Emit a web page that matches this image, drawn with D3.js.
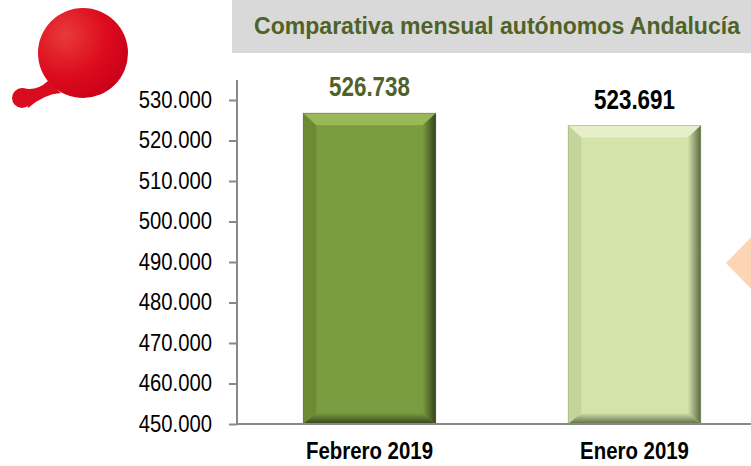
<!DOCTYPE html>
<html>
<head>
<meta charset="utf-8">
<script src="https://cdn.jsdelivr.net/npm/d3@7"></script>
<style>
  body { margin: 0; background: #fff; }
  svg { display: block; font-family: "Liberation Sans", Arial, sans-serif; }
</style>
</head>
<body>
<svg id="chart" width="751" height="466"></svg>
<script>
const categories = ["Febrero 2019", "Enero 2019"];
const values = [526738, 523691];
const yTicks = [450000, 460000, 470000, 480000, 490000, 500000, 510000, 520000, 530000];
const title = "Comparativa mensual autónomos Andalucía";

const svg = d3.select("#chart");
const fmt = d3.formatLocale({decimal: ",", thousands: ".", grouping: [3]}).format(",");

// narrow look: squeeze text horizontally (no Arial Narrow available)
const squeeze = (sel, k) => sel.each(function() {
  const w = this.getComputedTextLength();
  d3.select(this).attr("textLength", w * k).attr("lengthAdjust", "spacingAndGlyphs");
});

const x = d3.scaleBand().domain(categories).range([237, 767]).paddingInner(0.5).paddingOuter(0.25);
const y = d3.scaleLinear().domain([450000, 530000]).range([424, 100]);

const fills = [
  {base: "#7a9b40", light: "#98b956", dark: "#34431a", side: "#6d8a35", label: "#4f6228"},
  {base: "#d3e3a9", light: "#e6efc9", dark: "#5c6a45", side: "#c4d59b", label: "#000"}
];

const defs = svg.append("defs");

// logo
const grad = defs.append("radialGradient").attr("id", "logoGrad")
  .attr("cx", "30%").attr("cy", "30%").attr("r", "80%");
grad.append("stop").attr("offset", "0%").attr("stop-color", "#e83a3a");
grad.append("stop").attr("offset", "60%").attr("stop-color", "#dc0a1c");
grad.append("stop").attr("offset", "100%").attr("stop-color", "#c8001a");
const logo = svg.append("g").attr("fill", "#d80c1e");
logo.append("path").attr("d", "M22,88 Q36,92 48,81 L61,93 Q44,94 28,108 Z");
logo.append("circle").attr("cx", 22).attr("cy", 98).attr("r", 10);
logo.append("circle").attr("cx", 83).attr("cy", 53).attr("r", 45).attr("fill", "url(#logoGrad)");

// title box
svg.append("rect").attr("x", 232).attr("y", 0).attr("width", 519).attr("height", 53).attr("fill", "#d9d9d9");
svg.append("text").attr("x", 497).attr("y", 34).attr("text-anchor", "middle")
  .attr("font-size", 23).attr("font-weight", "bold").attr("fill", "#4f6228")
  .text(title)
  .attr("textLength", 486).attr("lengthAdjust", "spacingAndGlyphs");

// orange arrow shape at right edge
svg.append("path").attr("d", "M726,263 L760,228 L760,298 Z").attr("fill", "#fcd5b4");

// gradients for right and bottom edges
fills.forEach((f, i) => {
  const g = defs.append("linearGradient").attr("id", "edge" + i).attr("x1", 0).attr("x2", 1);
  g.append("stop").attr("offset", "0%").attr("stop-color", f.base);
  g.append("stop").attr("offset", "100%").attr("stop-color", f.dark);
  const gb = defs.append("linearGradient").attr("id", "bottom" + i)
    .attr("x1", 0).attr("x2", 0).attr("y1", 0).attr("y2", 1);
  gb.append("stop").attr("offset", "0%").attr("stop-color", f.base);
  gb.append("stop").attr("offset", "100%").attr("stop-color", f.dark);
});

// bars with bevel
const bw = x.bandwidth();
const bars = svg.selectAll("g.bar").data(categories).enter().append("g").attr("class", "bar");
bars.each(function(c, i) {
  const g = d3.select(this);
  const x0 = x(c), x1 = x(c) + bw, y0 = y(values[i]), y1 = y(450000);
  const f = fills[i];
  const t = 12, s = 13, b = 11;
  g.append("rect").attr("x", x0).attr("y", y0).attr("width", bw).attr("height", y1 - y0).attr("fill", f.base);
  // top bevel
  g.append("path").attr("d", `M${x0},${y0} L${x1},${y0} L${x1 - s},${y0 + t} L${x0 + s},${y0 + t} Z`).attr("fill", f.light);
  // left bevel
  g.append("path").attr("d", `M${x0},${y0} L${x0 + s},${y0 + t} L${x0 + s},${y1 - b} L${x0},${y1} Z`).attr("fill", f.side);
  // right bevel
  g.append("path").attr("d", `M${x1},${y0} L${x1 - s},${y0 + t} L${x1 - s},${y1 - b} L${x1},${y1} Z`).attr("fill", "url(#edge" + i + ")");
  // bottom bevel
  g.append("path").attr("d", `M${x0},${y1} L${x0 + s},${y1 - b} L${x1 - s},${y1 - b} L${x1},${y1} Z`).attr("fill", "url(#bottom" + i + ")");
  g.append("rect").attr("x", x0).attr("y", y0).attr("width", bw).attr("height", y1 - y0)
    .attr("fill", "none").attr("stroke", f.dark).attr("stroke-opacity", 0.3);

  g.append("text").attr("x", x0 + bw / 2).attr("y", y0 - 17).attr("text-anchor", "middle")
    .attr("font-size", 28).attr("font-weight", "bold").attr("fill", f.label)
    .text(fmt(values[i]))
    .call(squeeze, 0.8);
});

// y axis
const yAxis = svg.append("g").attr("transform", "translate(237,0)")
  .call(d3.axisLeft(y).tickValues(yTicks).tickFormat(fmt).tickSize(8).tickPadding(17));
yAxis.selectAll("line, path").attr("stroke", "#888").attr("stroke-width", 2);
yAxis.select(".domain").attr("d", "M0,80 V424");
yAxis.selectAll("text").attr("font-size", 23).attr("fill", "#000")
  .attr("font-family", "Liberation Sans, Arial, sans-serif")
  .call(squeeze, 0.88);

// x axis
const xAxis = svg.append("g").attr("transform", "translate(0,424)")
  .call(d3.axisBottom(x).tickSize(0).tickPadding(18));
xAxis.select(".domain").attr("stroke", "#888").attr("stroke-width", 2).attr("d", "M237,0 H751");
xAxis.selectAll("text").attr("font-size", 24).attr("font-weight", "bold").attr("fill", "#000")
  .attr("font-family", "Liberation Sans, Arial, sans-serif")
  .call(squeeze, 0.85);
</script>
</body>
</html>
